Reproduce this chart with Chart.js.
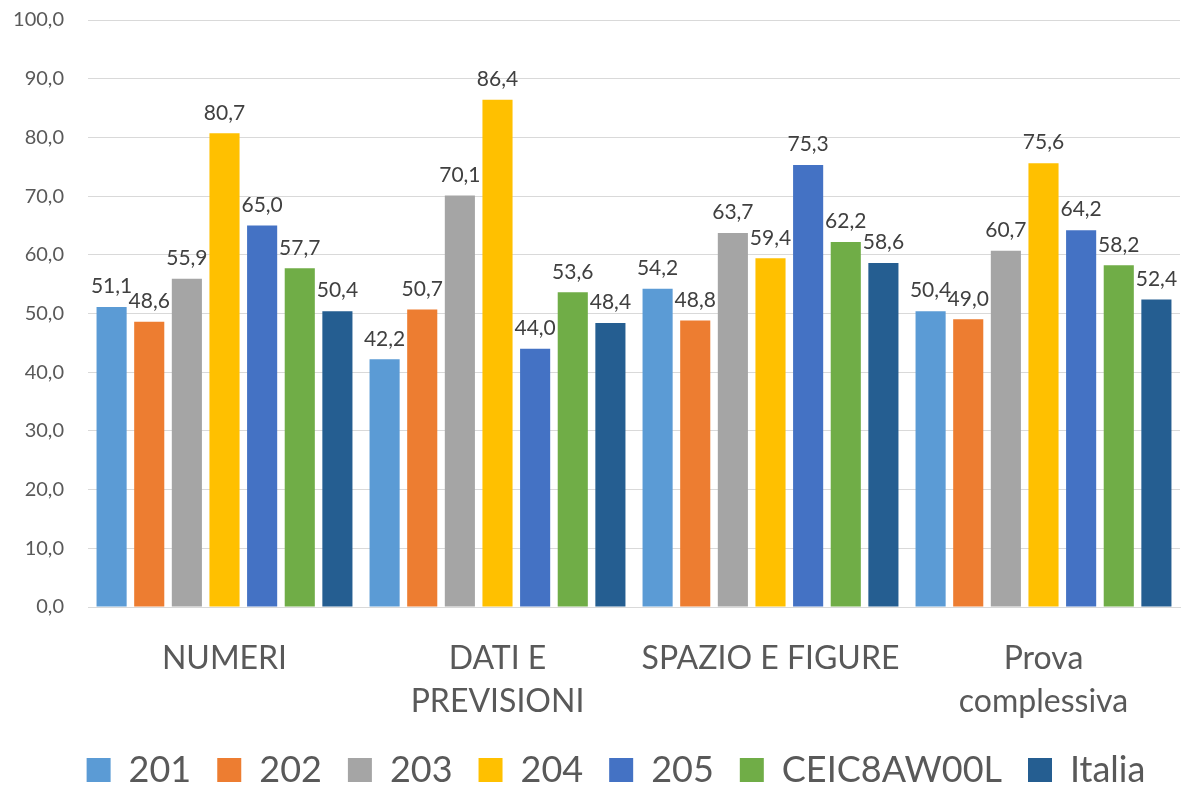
<!DOCTYPE html>
<html><head><meta charset="utf-8">
<script src="https://cdn.jsdelivr.net/npm/chart.js@4/dist/chart.umd.min.js"></script>
<style>html,body{margin:0;padding:0;background:#fff}#w{width:1196px;height:787px}</style>
</head><body><div id="w"><canvas id="c"></canvas></div>
<script>
const categories = [["NUMERI"], ["DATI E","PREVISIONI"], ["SPAZIO E FIGURE"], ["Prova","complessiva"]];
const seriesNames = ["201","202","203","204","205","CEIC8AW00L","Italia"];
const s201 = [51.1, 42.2, 54.2, 50.4];
const s202 = [48.6, 50.7, 48.8, 49.0];
const s203 = [55.9, 70.1, 63.7, 60.7];
const s204 = [80.7, 86.4, 59.4, 75.6];
const s205 = [65.0, 44.0, 75.3, 64.2];
const sCEIC = [57.7, 53.6, 62.2, 58.2];
const sItalia = [50.4, 48.4, 58.6, 52.4];
const yTicks = [0,10,20,30,40,50,60,70,80,90,100];

const colors = ["#5B9BD5","#ED7D31","#A5A5A5","#FFC000","#4472C4","#70AD47","#255E91"];
const allSeries = [s201,s202,s203,s204,s205,sCEIC,sItalia];
const FONT = "Lato, 'Open Sans', sans-serif";
const fmt = v => v.toFixed(1).replace('.', ',');

const labelPlugin = {
  id: 'valLabels',
  afterLayout(chart) {
    const lg = chart.legend;
    if (lg) { lg.left += 26; lg.right += 26; }
  },
  afterDatasetsDraw(chart) {
    const ctx = chart.ctx;
    ctx.save();
    ctx.font = "21px " + FONT;
    ctx.fillStyle = "#404040";
    ctx.textAlign = "center";
    ctx.textBaseline = "bottom";
    chart.data.datasets.forEach((ds, i) => {
      chart.getDatasetMeta(i).data.forEach((bar, j) => {
        ctx.fillText(fmt(ds.data[j]), bar.x, bar.y - 10);
      });
    });
    ctx.restore();
  }
};

new Chart(document.getElementById('c'), {
  type: 'bar',
  data: {
    labels: categories,
    datasets: seriesNames.map((n, i) => ({
      label: n, data: allSeries[i], backgroundColor: colors[i],
      barPercentage: 0.8, categoryPercentage: 0.965
    }))
  },
  options: {
    responsive: true, maintainAspectRatio: false, animation: false,
    layout: { padding: { left: 0, right: 16, top: 0, bottom: -11 } },
    plugins: {
      legend: {
        position: 'bottom',
        labels: { font: { family: FONT, size: 36 }, color: "#595959", boxWidth: 24, boxHeight: 24, padding: 26 }
      },
      tooltip: { enabled: false }
    },
    scales: {
      x: {
        grid: { display: false, drawTicks: false, tickLength: 0 },
        border: { color: "#D9D9D9", width: 1 },
        afterFit: s => { s.height = 119; },
        ticks: { font: { family: FONT, size: 32, lineHeight: 1.35 }, color: "#595959", padding: 30, maxRotation: 0, autoSkip: false }
      },
      y: {
        min: 0, max: 100,
        afterBuildTicks: s => { s.ticks = yTicks.map(v => ({ value: v })); },
        afterFit: s => { s.width = 88; s.paddingTop = 20; s.paddingBottom = 0; },
        grid: { color: "#D9D9D9", lineWidth: 1, drawTicks: false },
        border: { display: false },
        ticks: { font: { family: FONT, size: 20 }, color: "#595959", padding: 24, callback: v => fmt(v) }
      }
    }
  },
  plugins: [labelPlugin]
});
</script>
</body></html>
